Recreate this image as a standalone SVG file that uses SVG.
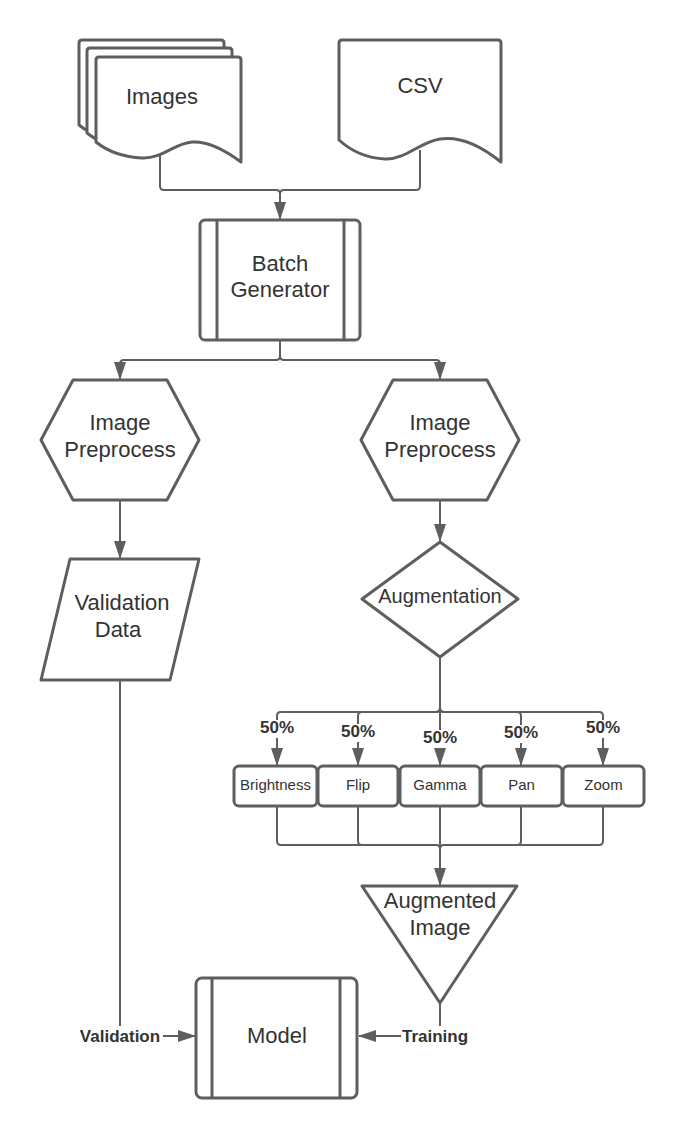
<svg xmlns="http://www.w3.org/2000/svg" width="684" height="1139" viewBox="0 0 684 1139">
<style>
.s{fill:#fff;stroke:#5e5e5e;stroke-width:3;stroke-linejoin:round}
.l{fill:none;stroke:#5e5e5e;stroke-width:3}
.c{fill:none;stroke:#5e5e5e;stroke-width:2}
.t{font-family:"Liberation Sans",Arial,sans-serif;font-size:22px;fill:#333;text-anchor:middle}
.m{font-family:"Liberation Sans",Arial,sans-serif;font-size:20px;fill:#333;text-anchor:middle}
.sm{font-family:"Liberation Sans",Arial,sans-serif;font-size:15px;fill:#333;text-anchor:middle}
.b{font-family:"Liberation Sans",Arial,sans-serif;font-size:17px;font-weight:bold;fill:#333;text-anchor:middle}
.bg{fill:#fff}
</style>
<defs>
<marker id="ar" markerUnits="userSpaceOnUse" markerWidth="18" markerHeight="12" refX="17" refY="6" orient="auto">
<path d="M0,0 L18,6 L0,12 Z" fill="#5e5e5e"/>
</marker>
</defs>
<rect width="684" height="1139" fill="#fff"/>
<g id="connectors">
<path class="c" d="M160,150 V186 Q160,190 164,190 H276 Q280,190 280,194 V219" marker-end="url(#ar)"/>
<path class="c" d="M420,150 V186 Q420,190 416,190 H284 Q280,190 280,194"/>
<path class="c" d="M280,340 V356 Q280,360 276,360 H124 Q120,360 120,364 V379" marker-end="url(#ar)"/>
<path class="c" d="M280,356 Q280,360 284,360 H436 Q440,360 440,364 V379" marker-end="url(#ar)"/>
<path class="c" d="M120,500 V558" marker-end="url(#ar)"/>
<path class="c" d="M440,500 V541" marker-end="url(#ar)"/>
<path class="c" d="M440,657 V765" marker-end="url(#ar)"/>
<path class="c" d="M440,708 Q440,712 436,712 H281 Q277,712 277,716 V765" marker-end="url(#ar)"/>
<path class="c" d="M440,708 Q440,712 436,712 H362 Q358,712 358,716 V765" marker-end="url(#ar)"/>
<path class="c" d="M440,708 Q440,712 444,712 H517 Q521,712 521,716 V765" marker-end="url(#ar)"/>
<path class="c" d="M440,708 Q440,712 444,712 H599 Q603,712 603,716 V765" marker-end="url(#ar)"/>
<rect class="bg" x="257" y="720" width="40" height="18"/>
<text class="b" x="277" y="733">50%</text>
<rect class="bg" x="338" y="724" width="40" height="18"/>
<text class="b" x="358" y="737">50%</text>
<rect class="bg" x="420" y="730" width="40" height="18"/>
<text class="b" x="440" y="743">50%</text>
<rect class="bg" x="501" y="725" width="40" height="18"/>
<text class="b" x="521" y="738">50%</text>
<rect class="bg" x="583" y="720" width="40" height="18"/>
<text class="b" x="603" y="733">50%</text>
<path class="c" d="M277,806 V841 Q277,845 281,845 H436 Q440,845 440,849"/>
<path class="c" d="M358,806 V841 Q358,845 362,845 H436"/>
<path class="c" d="M521,806 V841 Q521,845 517,845 H444 Q440,845 440,849"/>
<path class="c" d="M603,806 V841 Q603,845 599,845 H444"/>
<path class="c" d="M440,806 V885" marker-end="url(#ar)"/>
<path class="c" d="M440,1003 V1032 Q440,1036 436,1036 H359" marker-end="url(#ar)"/>
<path class="c" d="M120,680 V1032 Q120,1036 124,1036 H195" marker-end="url(#ar)"/>
<rect class="bg" x="77" y="1026" width="86" height="20"/>
<text class="b" x="120" y="1042">Validation</text>
<rect class="bg" x="401" y="1026" width="68" height="20"/>
<text class="b" x="435" y="1042">Training</text>
</g>
<g id="images">
<path class="s" d="M82,40 H221 Q224,40 224,43 V145 C208,133 191,124 175,125 C158,126 145,142 125,141 C105,140 89,133 79,125 V43 Q79,40 82,40 Z"/>
<path class="s" d="M90,48 H229 Q232,48 232,51 V153 C216,141 199,132 183,133 C166,134 153,150 133,149 C113,148 97,141 87,133 V51 Q87,48 90,48 Z"/>
<path class="s" d="M99,57 H238 Q241,57 241,60 V162 C225,150 208,141 192,142 C175,143 162,159 142,158 C122,157 106,150 96,142 V60 Q96,57 99,57 Z"/>
<text class="t" x="162" y="104">Images</text>
</g>
<g id="csv">
<path class="s" d="M342,40 H498 Q501,40 501,43 V162 C480,145 460,136 440,139 C420,142 405,160 385,159 C365,158 350,150 339,140 V43 Q339,40 342,40 Z"/>
<text class="t" x="420" y="93">CSV</text>
</g>
<g id="batch">
<rect class="s" x="200" y="220" width="160" height="120" rx="5"/>
<line class="l" x1="217" y1="220" x2="217" y2="340"/>
<line class="l" x1="344" y1="220" x2="344" y2="340"/>
<text class="t" x="280" y="271">Batch</text>
<text class="t" x="280" y="297">Generator</text>
</g>
<g id="preprocess-left">
<polygon class="s" points="73,380 167,380 199,440 167,500 73,500 41,440"/>
<text class="t" x="120" y="430">Image</text>
<text class="t" x="120" y="457">Preprocess</text>
</g>
<g id="preprocess-right">
<polygon class="s" points="393,380 487,380 519,440 487,500 393,500 361,440"/>
<text class="t" x="440" y="430">Image</text>
<text class="t" x="440" y="457">Preprocess</text>
</g>
<g id="validation-data">
<polygon class="s" points="70,559 199,559 170,680 41,680"/>
<text class="t" x="122" y="610">Validation</text>
<text class="t" x="118" y="637">Data</text>
</g>
<g id="augmentation">
<polygon class="s" points="440,542 518,599 440,657 362,599"/>
<text class="m" x="440" y="603">Augmentation</text>
</g>
<g id="brightness">
<rect class="s" x="234" y="766" width="83" height="40" rx="5"/>
<text class="sm" x="275.5" y="790">Brightness</text>
</g>
<g id="flip">
<rect class="s" x="318" y="766" width="80" height="40" rx="5"/>
<text class="sm" x="358" y="790">Flip</text>
</g>
<g id="gamma">
<rect class="s" x="400" y="766" width="80" height="40" rx="5"/>
<text class="sm" x="440" y="790">Gamma</text>
</g>
<g id="pan">
<rect class="s" x="481" y="766" width="81" height="40" rx="5"/>
<text class="sm" x="521.5" y="790">Pan</text>
</g>
<g id="zoom">
<rect class="s" x="563" y="766" width="81" height="40" rx="5"/>
<text class="sm" x="603.5" y="790">Zoom</text>
</g>
<g id="augmented-image">
<polygon class="s" points="362,886 517,886 440,1003"/>
<text class="t" x="440" y="908">Augmented</text>
<text class="t" x="440" y="935">Image</text>
</g>
<g id="model">
<rect class="s" x="196" y="978" width="161" height="120" rx="6"/>
<line class="l" x1="212" y1="978" x2="212" y2="1098"/>
<line class="l" x1="340" y1="978" x2="340" y2="1098"/>
<text class="t" x="277" y="1043">Model</text>
</g>
</svg>
